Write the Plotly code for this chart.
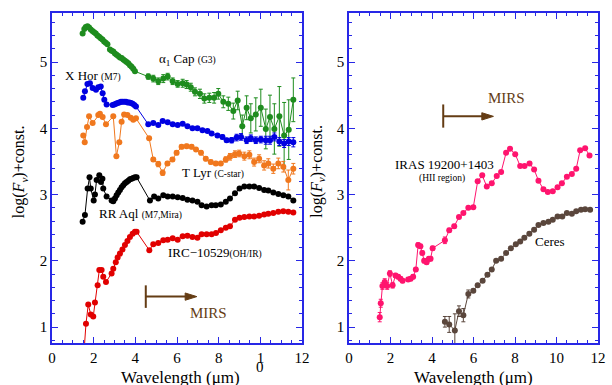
import plotly.graph_objects as go

# ---------------- data ----------------
# alpha1 Cap (G3) - green
cap_x = [1.47, 1.55, 1.62, 1.70, 1.78, 1.86, 1.94, 2.02, 2.10, 2.18, 2.26, 2.34, 2.42, 2.50, 2.58, 2.66,
         2.78, 2.86, 2.94, 3.02, 3.10, 3.18, 3.26, 3.34, 3.42, 3.50, 3.58, 3.66, 3.74, 3.82, 3.90, 3.98,
         4.62, 4.86, 5.10, 5.34, 5.55, 5.79, 6.03, 6.27, 6.46, 6.66, 6.86, 7.10, 7.31, 7.55, 7.78, 7.98,
         8.22, 8.46, 8.70, 8.91, 9.13, 9.34, 9.54, 9.78, 10.02, 10.26, 10.46, 10.67, 10.91, 11.14, 11.36, 11.58]
cap_y = [5.43, 5.50, 5.53, 5.54, 5.52, 5.49, 5.47, 5.45, 5.43, 5.40, 5.38, 5.36, 5.34, 5.31, 5.29, 5.27,
         5.19, 5.17, 5.16, 5.13, 5.11, 5.09, 5.07, 5.06, 5.04, 5.02, 5.00, 4.98, 4.95, 4.93, 4.90, 4.86,
         4.78, 4.75, 4.71, 4.75, 4.78, 4.71, 4.67, 4.68, 4.66, 4.62, 4.55, 4.52, 4.45, 4.46, 4.46, 4.52,
         4.40, 4.37, 4.26, 4.42, 4.03, 4.31, 4.15, 4.21, 4.31, 3.99, 4.17, 3.99, 4.18, 3.89, 3.98, 4.43]
cap_err = [0] * 32 + [0.04, 0.05, 0.05, 0.06, 0.05, 0.05, 0.05, 0.06, 0.06, 0.06, 0.06, 0.07, 0.07, 0.07,
                      0.08, 0.08, 0.09, 0.10, 0.12, 0.14, 0.17, 0.18, 0.22, 0.25, 0.28, 0.30, 0.33, 0.38,
                      0.45, 0.50, 0.45, 0.33]

# X Hor (M7) - blue
hor_x = [1.50, 1.58, 1.70, 1.82, 1.95, 2.11, 2.22, 2.34, 2.43, 2.51, 2.62, 2.91, 2.99, 3.07, 3.15, 3.23,
         3.31, 3.39, 3.47, 3.55, 3.63, 3.71, 3.79, 3.87, 3.95, 4.03, 4.62, 4.86, 5.10, 5.31, 5.55, 5.79,
         6.03, 6.27, 6.50, 6.74, 6.98, 7.22, 7.46, 7.66, 7.94, 8.18, 8.38, 8.62, 8.86, 9.07, 9.34, 9.54,
         9.78, 10.02, 10.26, 10.46, 10.67, 10.91, 11.14, 11.36, 11.58]
hor_y = [4.46, 4.56, 4.67, 4.68, 4.61, 4.58, 4.62, 4.63, 4.53, 4.43, 4.36, 4.35, 4.36, 4.37, 4.38, 4.39,
         4.40, 4.40, 4.40, 4.40, 4.39, 4.39, 4.38, 4.37, 4.35, 4.33, 4.06, 4.08, 4.05, 4.11, 4.09, 4.06,
         4.05, 4.07, 4.03, 4.00, 4.00, 3.97, 3.96, 3.92, 3.89, 3.87, 3.82, 3.82, 3.86, 3.87, 3.82, 3.85,
         3.82, 3.83, 3.82, 3.82, 3.87, 3.80, 3.77, 3.80, 3.79]
hor_err = [0] * 40 + [0.02, 0.03, 0.03, 0.04, 0.05, 0.05, 0.05, 0.05, 0.05, 0.05, 0.06, 0.06, 0.06,
                      0.06, 0.06, 0.06, 0.07]

# T Lyr (C-star) - orange
lyr_x = [1.50, 1.57, 1.68, 1.78, 1.95, 2.22, 2.30, 2.43, 2.59, 2.94, 3.09, 3.23, 3.34, 3.46, 3.62, 3.78,
         3.90, 4.03, 4.66, 4.86, 5.10, 5.31, 5.54, 5.78, 5.98, 6.22, 6.46, 6.70, 6.91, 7.15, 7.38, 7.62,
         7.86, 8.10, 8.34, 8.54, 8.78, 8.98, 9.23, 9.47, 9.70, 9.94, 10.18, 10.38, 10.62, 10.86, 11.10,
         11.34, 11.58]
lyr_y = [3.89, 3.79, 4.02, 4.18, 4.08, 4.20, 4.22, 4.17, 4.06, 4.18, 3.58, 3.79, 4.10, 4.21, 4.20, 4.16,
         4.13, 4.15, 3.85, 3.53, 3.46, 3.33, 3.47, 3.53, 3.63, 3.72, 3.73, 3.72, 3.68, 3.63, 3.54, 3.49,
         3.47, 3.47, 3.53, 3.57, 3.61, 3.62, 3.58, 3.60, 3.49, 3.54, 3.44, 3.47, 3.39, 3.47, 3.42,
         3.22, 3.39]
lyr_err = [0] * 19 + [0.03, 0.04, 0.04, 0.03, 0.03, 0.03, 0.03, 0.03, 0.03, 0.03, 0.03, 0.03, 0.03,
                      0.03, 0.03, 0.04, 0.05, 0.05, 0.05, 0.06, 0.06, 0.06, 0.06, 0.07, 0.07, 0.07,
                      0.08, 0.08, 0.15, 0.08]

# RR Aql (M7, Mira) - black
aql_x = [1.47, 1.58, 1.71, 1.80, 1.86, 2.00, 2.06, 2.14, 2.27, 2.35, 2.42, 2.46, 2.62, 2.86, 2.94, 3.02,
         3.10, 3.18, 3.26, 3.34, 3.42, 3.50, 3.58, 3.66, 3.74, 3.82, 3.90, 3.98, 4.06, 4.70, 4.90, 5.10,
         5.34, 5.55, 5.79, 6.03, 6.27, 6.50, 6.74, 6.98, 7.18, 7.42, 7.66, 7.86, 8.10, 8.34, 8.54, 8.78,
         9.00, 9.23, 9.47, 9.70, 9.94, 10.18, 10.38, 10.62, 10.86, 11.10, 11.34, 11.58]
aql_y = [2.59, 2.69, 3.09, 3.26, 3.09, 2.91, 3.00, 3.22, 3.29, 3.19, 3.24, 3.09, 2.97, 2.91, 2.90, 2.94,
         2.99, 3.03, 3.07, 3.11, 3.14, 3.17, 3.19, 3.21, 3.23, 3.24, 3.25, 3.26, 3.26, 2.91, 2.97, 2.94,
         2.99, 2.97, 2.97, 2.96, 2.95, 2.92, 2.91, 2.89, 2.84, 2.82, 2.84, 2.84, 2.85, 2.89, 2.94, 3.02,
         3.09, 3.12, 3.12, 3.12, 3.10, 3.07, 3.06, 3.03, 3.01, 2.99, 2.97, 2.91]

# IRC-10529 (OH/IR) - red
irc_x = [1.52, 1.63, 1.74, 1.86, 1.98, 2.06, 2.19, 2.27, 2.38, 2.46, 2.59, 2.86, 2.94, 3.06, 3.15, 3.26,
         3.38, 3.50, 3.62, 3.74, 3.87, 3.98, 4.06, 4.67, 4.86, 5.10, 5.34, 5.55, 5.79, 6.03, 6.27, 6.50,
         6.74, 6.98, 7.18, 7.42, 7.66, 7.87, 8.10, 8.34, 8.54, 8.78, 9.00, 9.23, 9.47, 9.70, 9.94, 10.18,
         10.38, 10.62, 10.86, 11.10, 11.34, 11.58]
irc_y = [0.55, 1.05, 1.34, 1.19, 1.16, 1.37, 1.63, 1.86, 1.86, 1.76, 1.68, 1.81, 1.88, 1.98, 2.05, 2.11,
         2.17, 2.24, 2.30, 2.36, 2.41, 2.44, 2.44, 2.16, 2.25, 2.27, 2.31, 2.32, 2.34, 2.32, 2.37, 2.38,
         2.36, 2.35, 2.40, 2.40, 2.40, 2.42, 2.46, 2.50, 2.52, 2.62, 2.65, 2.66, 2.67, 2.67, 2.68, 2.70,
         2.71, 2.72, 2.74, 2.75, 2.74, 2.73]

# IRAS 19200+1403 (HII region) - pink
iras_x = [1.48, 1.53, 1.61, 1.72, 1.84, 1.97, 2.10, 2.24, 2.37, 2.48, 2.58, 2.85, 2.97, 3.09, 3.22, 3.33,
          3.44, 3.53, 3.62, 3.74, 3.85, 3.93, 4.03, 4.62, 4.83, 5.07, 5.30, 5.51, 5.75, 5.99, 6.20, 6.42,
          6.64, 6.88, 7.12, 7.33, 7.57, 7.76, 8.01, 8.25, 8.46, 8.70, 8.92, 9.13, 9.37, 9.58, 9.82, 10.05,
          10.26, 10.50, 10.74, 10.95, 11.14, 11.38, 11.59]
iras_y = [1.15, 1.36, 1.62, 1.68, 1.62, 1.81, 1.63, 1.78, 1.76, 1.73, 1.70, 1.72, 1.73, 1.76, 1.87, 2.24,
          2.22, 2.12, 2.00, 1.98, 2.03, 2.03, 2.19, 2.31, 2.46, 2.52, 2.66, 2.72, 2.80, 2.81, 3.20, 3.29,
          3.12, 3.17, 3.28, 3.34, 3.63, 3.69, 3.61, 3.43, 3.43, 3.47, 3.38, 3.21, 3.08, 3.04, 3.05, 3.11,
          3.17, 3.27, 3.31, 3.39, 3.67, 3.70, 3.59]
iras_err = [0.07, 0.06, 0.05, 0.05, 0.05, 0.04, 0.04, 0.03, 0.03, 0.03, 0.03, 0.03, 0.03, 0.03, 0.03, 0.03,
            0.03, 0.03, 0.03, 0.03, 0.03, 0.03, 0.03, 0.05, 0.03, 0.03, 0.02, 0.02, 0.02, 0.02, 0.02, 0.02,
            0.02, 0.02, 0.02, 0.02, 0.02, 0.02, 0.02, 0.02, 0.02, 0.02, 0.02, 0.02, 0.02, 0.02, 0.02, 0.02,
            0.02, 0.02, 0.02, 0.02, 0.02, 0.02, 0.02]

# Ceres - brown
ceres_x = [4.62, 4.83, 5.10, 5.30, 5.51, 5.75, 5.99, 6.20, 6.44, 6.67, 6.88, 7.09, 7.33, 7.57, 7.80, 8.04,
           8.25, 8.45, 8.69, 8.92, 9.13, 9.37, 9.61, 9.82, 10.05, 10.28, 10.50, 10.74, 10.95, 11.18,
           11.38, 11.62]
ceres_y = [1.08, 1.04, 0.95, 1.24, 1.18, 1.50, 1.55, 1.63, 1.70, 1.79, 1.87, 2.00, 2.03, 2.12, 2.19, 2.25,
           2.29, 2.35, 2.41, 2.47, 2.54, 2.57, 2.59, 2.62, 2.67, 2.67, 2.72, 2.71, 2.75, 2.77, 2.78, 2.77]
ceres_err = [0.08, 0.12, 0.25, 0.08, 0.10, 0.06, 0.02, 0.02, 0.02, 0.02, 0.02, 0.02, 0.02, 0.02, 0.02, 0.02,
             0.02, 0.02, 0.02, 0.02, 0.02, 0.02, 0.02, 0.02, 0.02, 0.02, 0.02, 0.02, 0.02, 0.02, 0.02, 0.02]

x_tickvals = [0, 2, 4, 6, 8, 10, 12]
left_ticktext = ["0", "2", "4", "6", "8", "1", "12"]   # the "10" is broken over two lines in the reference
right_ticktext = ["0", "2", "4", "6", "8", "10", "12"]
y_tickvals = [1, 2, 3, 4, 5]

# ---------------- styles ----------------
GREEN = "rgb(30,140,30)"
BLUE = "rgb(0,0,225)"
ORANGE = "rgb(240,120,30)"
BLACK = "rgb(0,0,0)"
RED = "rgb(225,0,0)"
PINK = "rgb(255,20,110)"
BROWN = "rgb(90,70,60)"
MIRS_C = "rgb(100,60,20)"
FRAME = "rgb(40,40,230)"
SERIF = "Liberation Serif"

fig = go.Figure()


def add_series(x, y, color, err=None, xa="x", ya="y"):
    kw = {}
    if err is not None:
        kw["error_y"] = dict(type="data", array=err, visible=True, color=color,
                             thickness=1, width=2)
    fig.add_trace(go.Scatter(
        x=x, y=y, mode="lines+markers", xaxis=xa, yaxis=ya,
        line=dict(color=color, width=1),
        marker=dict(color=color, size=6),
        showlegend=False, cliponaxis=True, **kw))


add_series(cap_x, cap_y, GREEN, cap_err)
add_series(lyr_x, lyr_y, ORANGE, lyr_err)
add_series(hor_x, hor_y, BLUE, hor_err)
add_series(aql_x, aql_y, BLACK)
add_series(irc_x, irc_y, RED)
add_series(iras_x, iras_y, PINK, iras_err, "x2", "y2")
add_series(ceres_x, ceres_y, BROWN, ceres_err, "x2", "y2")

axis_common = dict(
    showline=True, linecolor=FRAME, linewidth=1.5, mirror="allticks",
    ticks="inside", ticklen=6, tickwidth=1, tickcolor=FRAME,
    showgrid=False, zeroline=False, automargin=False,
    tickfont=dict(family=SERIF, size=15, color="black"),
)

xa = dict(axis_common, range=[0, 12], tickmode="array", tickvals=x_tickvals,
          minor=dict(dtick=0.5, ticklen=3, tickcolor=FRAME, ticks="inside", showgrid=False))
ya = dict(axis_common, range=[0.76, 5.74], tickvals=y_tickvals,
          minor=dict(dtick=0.2, ticklen=3, tickcolor=FRAME, ticks="inside", showgrid=False))

fig.update_layout(
    width=612, height=385,
    margin=dict(l=52, r=14, t=13, b=42),
    paper_bgcolor="white", plot_bgcolor="white",
    xaxis=dict(xa, domain=[0, 0.458], anchor="y", ticktext=left_ticktext),
    yaxis=dict(ya, domain=[0, 1], anchor="x"),
    xaxis2=dict(xa, domain=[0.544, 1], anchor="y2", ticktext=right_ticktext),
    yaxis2=dict(ya, domain=[0, 1], anchor="x2"),
    font=dict(family=SERIF, color="black"),
)

# second line of the broken "10" tick label on the left panel
fig.add_annotation(xref="x", yref="paper", x=10, y=-0.073, text="0", showarrow=False,
                   xanchor="center", yanchor="middle",
                   font=dict(family=SERIF, size=15, color="black"))

# axis titles as text
ylabel = "log(<i>F</i><sub><i>ν</i></sub>)+const."
for xp in [-0.059, 0.486]:
    fig.add_annotation(xref="paper", yref="paper", x=xp, y=0.52, text=ylabel,
                       textangle=-90, showarrow=False, xanchor="center", yanchor="middle",
                       font=dict(family=SERIF, size=16, color="black"))
for xp in [0.236, 0.772]:
    fig.add_annotation(xref="paper", yref="paper", x=xp, y=-0.105, text="Wavelength (μm)",
                       showarrow=False, xanchor="center", yanchor="middle",
                       font=dict(family=SERIF, size=17, color="black"))

small = "font-size:9.5px"
labels = [
    ("x", "y", 5.04, 5.04, "α<sub>1</sub> Cap <span style='%s'>(G3)</span>" % small),
    ("x", "y", 0.53, 4.80, "X Hor <span style='%s'>(M7)</span>" % small),
    ("x", "y", 6.14, 3.34, "T Lyr <span style='%s'>(C-star)</span>" % small),
    ("x", "y", 2.16, 2.72, "RR Aql <span style='%s'>(M7,Mira)</span>" % small),
    ("x", "y", 5.47, 2.13, "IRC−10529<span style='%s'>(OH/IR)</span>" % small),
    ("x2", "y2", 2.10, 3.45, "IRAS 19200+1403"),
    ("x2", "y2", 8.86, 2.29, "Ceres"),
]
for xr, yr, x, y, t in labels:
    fig.add_annotation(xref=xr, yref=yr, x=x, y=y, text=t, showarrow=False,
                       xanchor="left", yanchor="middle",
                       font=dict(family=SERIF, size=13, color="black"))
fig.add_annotation(xref="x2", yref="y2", x=4.46, y=3.24, text="(HII region)", showarrow=False,
                   xanchor="center", yanchor="middle",
                   font=dict(family=SERIF, size=9.5, color="black"))

# MIRS markers: start bar, shaft, filled arrow head, label
for xr, yr, x0, yb0, yb1, yh, x1, tx, ty in [
    ("x", "y", 4.50, 1.29, 1.63, 1.46, 6.95, 6.53, 1.21),
    ("x2", "y2", 4.54, 4.01, 4.36, 4.18, 6.96, 6.59, 4.45),
]:
    fig.add_shape(type="line", xref=xr, yref=yr, x0=x0, x1=x0, y0=yb0, y1=yb1,
                  line=dict(color=MIRS_C, width=2))
    fig.add_shape(type="line", xref=xr, yref=yr, x0=x0, x1=x1 - 0.45, y0=yh, y1=yh,
                  line=dict(color=MIRS_C, width=2))
    hx = x1 - 0.56
    fig.add_shape(type="path", xref=xr, yref=yr,
                  path=f"M {hx},{yh - 0.055} L {x1},{yh} L {hx},{yh + 0.055} Z",
                  fillcolor=MIRS_C, line=dict(color=MIRS_C, width=1))
    fig.add_annotation(xref=xr, yref=yr, x=tx, y=ty, text="MIRS", showarrow=False,
                       xanchor="left", yanchor="middle",
                       font=dict(family=SERIF, size=15, color=MIRS_C))

fig.write_html("out.html")
